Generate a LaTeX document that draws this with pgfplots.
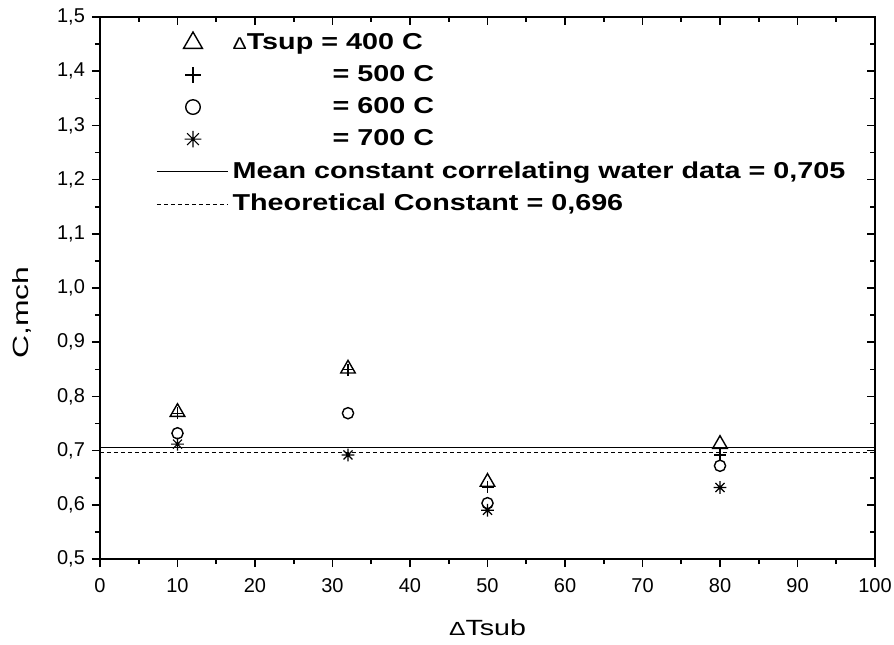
\documentclass[border=0pt]{standalone}
\usepackage{pgfplots}
\pgfplotsset{compat=1.18}
\usepackage{fontspec}
\setmainfont{Liberation Sans}
\newfontfamily\legfont[FakeStretch=1.25]{Liberation Sans}
\newfontfamily\labfont[FakeStretch=1.3]{Liberation Sans}
\newfontfamily\ylabfont[FakeStretch=1.45]{Liberation Sans}
\newcommand{\smalldelta}{{\mdseries\fontsize{8.5}{10}\selectfont Δ}}

\pgfdeclareplotmark{star8}{%
  \pgfpathmoveto{\pgfqpoint{0pt}{\pgfplotmarksize}}%
  \pgfpathlineto{\pgfqpoint{0pt}{-\pgfplotmarksize}}%
  \pgfpathmoveto{\pgfqpoint{\pgfplotmarksize}{0pt}}%
  \pgfpathlineto{\pgfqpoint{-\pgfplotmarksize}{0pt}}%
  \pgfpathmoveto{\pgfqpoint{.7071\pgfplotmarksize}{.7071\pgfplotmarksize}}%
  \pgfpathlineto{\pgfqpoint{-.7071\pgfplotmarksize}{-.7071\pgfplotmarksize}}%
  \pgfpathmoveto{\pgfqpoint{-.7071\pgfplotmarksize}{.7071\pgfplotmarksize}}%
  \pgfpathlineto{\pgfqpoint{.7071\pgfplotmarksize}{-.7071\pgfplotmarksize}}%
  \pgfusepathqstroke}

\pgfplotsset{
  markleg/.style={legend image code/.code={\draw[##1, every mark/.append style={scale=1.3}] plot coordinates {(18pt,0pt)};}},
  lineleg/.style={legend image code/.code={\draw[##1] (0pt,0pt) -- (35.5pt,0pt);}},
  common/.style={
    scale only axis, width=387.5pt, height=271pt,
    xmin=0, xmax=100, ymin=0.5, ymax=1.5,
    xtick={0,10,...,100}, ytick={0.5,0.6,...,1.5},
    minor x tick num=1, minor y tick num=1,
    major tick length=4pt, minor tick length=2.5pt,
    axis line style={line width=0.8pt},
    every tick/.style={black, line width=0.8pt},
  }
}

\begin{document}
\begin{tikzpicture}
\begin{axis}[common,
  xtick pos=left, ytick pos=left, tick align=outside,
  tick label style={font=\fontsize{10}{12}\selectfont},
  /pgf/number format/assume math mode=true,
  yticklabel style={/pgf/number format/.cd, use comma, fixed, fixed zerofill, precision=1},
  xticklabel style={yshift=-2pt, /pgf/number format/.cd, fixed, precision=0},
  xlabel={\labfont\fontsize{11}{13}\selectfont {\fontsize{9.5}{11}\selectfont Δ}Tsub},
  ylabel={\ylabfont\fontsize{11}{13}\selectfont C,mch},
  xlabel style={at={(axis description cs:0.5,0)}, anchor=center, yshift=-34.5pt},
  ylabel style={at={(axis description cs:0,0.5)}, anchor=center, xshift=-12.25pt, yshift=39pt},
  legend style={at={(rel axis cs:0,1)}, anchor=north west, xshift=28pt, yshift=-6pt,
    draw=none, fill=none, inner sep=0pt, row sep=2.5pt,
    font=\legfont\bfseries\fontsize{11.5}{13.8}\selectfont,
    cells={anchor=west}},
  legend cell align=left,
]
\addplot[only marks, mark=triangle, mark size=4.2pt, mark options={line width=0.7pt}, markleg]
  coordinates {(10,0.771) (32,0.851) (50,0.642) (80,0.712)};
\addlegendentry{\smalldelta Tsup = 400 C}
\addplot[only marks, mark=+, mark size=3pt, mark options={line width=0.6pt}, markleg]
  coordinates {(10,0.769) (32,0.849) (50,0.633) (80,0.692)};
\addlegendentry{\hspace*{50pt}= 500 C}
\addplot[only marks, mark=o, mark size=2.8pt, mark options={line width=0.7pt}, markleg]
  coordinates {(10,0.732) (32,0.769) (50,0.603) (80,0.672)};
\addlegendentry{\hspace*{50pt}= 600 C}
\addplot[only marks, mark=star8, mark size=3.2pt, mark options={line width=0.6pt}, markleg]
  coordinates {(10,0.712) (32,0.692) (50,0.590) (80,0.632)};
\addlegendentry{\hspace*{50pt}= 700 C}
\addplot[black, line width=0.6pt, lineleg]
  coordinates {(0,0.705) (100,0.705)};
\addlegendentry{Mean constant correlating water data = 0,705}
\addplot[black, line width=0.6pt, dash pattern=on 2pt off 1.5pt, lineleg]
  coordinates {(0,0.696) (100,0.696)};
\addlegendentry{Theoretical Constant = 0,696}
\end{axis}
\begin{axis}[common,
  xtick pos=right, ytick pos=right, tick align=inside,
  xticklabels={}, yticklabels={},
]
\end{axis}
\pgfresetboundingbox
\path (-50pt,-42.5pt) rectangle (397pt,279.5pt);
\end{tikzpicture}
\end{document}
